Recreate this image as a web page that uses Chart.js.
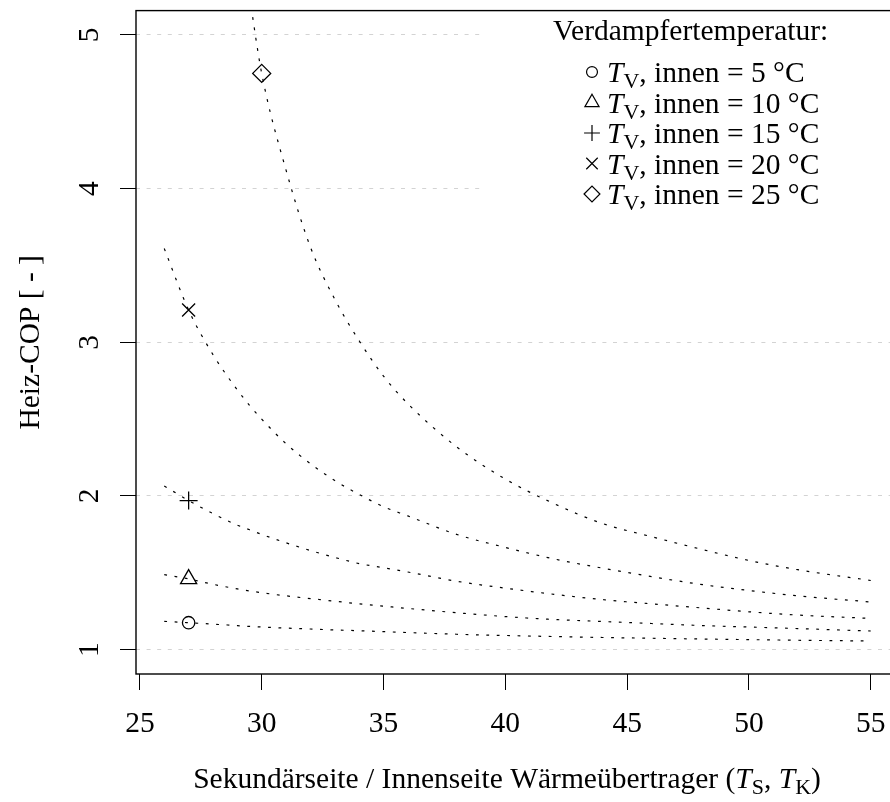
<!DOCTYPE html>
<html>
<head>
<meta charset="utf-8">
<script src="https://cdn.jsdelivr.net/npm/chart.js@4.4.0/dist/chart.umd.min.js"></script>
<style>
  html, body { margin: 0; padding: 0; background: #fff; overflow: hidden; }
  #wrap { width: 890px; height: 802px; overflow: hidden; }
</style>
</head>
<body>
<div id="wrap"><canvas id="copChart" width="910" height="802"></canvas></div>
<script>
// Kondensations- / Sekundärtemperatur [°C]
const kondTemp = [26, 27, 28, 29, 29.5, 30, 31, 32, 33, 34, 35, 36, 38, 40, 42, 44, 46, 48, 50, 52, 55];

// Heiz-COP je Verdampfertemperatur
const cop5  = [1.184, 1.175, 1.166, 1.156, 1.151, 1.147, 1.140, 1.134, 1.128, 1.123, 1.117, 1.111, 1.100, 1.092, 1.085, 1.079, 1.074, 1.069, 1.065, 1.061, 1.056];
const cop10 = [1.488, 1.460, 1.425, 1.395, 1.382, 1.370, 1.350, 1.332, 1.315, 1.298, 1.283, 1.268, 1.240, 1.215, 1.196, 1.183, 1.170, 1.157, 1.147, 1.137, 1.121];
const cop15 = [2.065, 1.970, 1.885, 1.810, 1.780, 1.750, 1.695, 1.645, 1.600, 1.560, 1.533, 1.505, 1.445, 1.400, 1.360, 1.325, 1.298, 1.272, 1.246, 1.225, 1.203];
const cop20 = [3.610, 3.210, 2.920, 2.690, 2.590, 2.500, 2.340, 2.210, 2.100, 2.010, 1.930, 1.870, 1.750, 1.665, 1.590, 1.530, 1.475, 1.425, 1.385, 1.350, 1.310];
const cop25 = [null, null, null, null, 5.250, 4.750, 4.120, 3.620, 3.280, 3.010, 2.780, 2.600, 2.320, 2.110, 1.950, 1.820, 1.735, 1.655, 1.580, 1.520, 1.450];

// Messpunkte
const evapTemps = [5, 10, 15, 20, 25];
const markerTemp = [27, 27, 27, 27, 30];
const markerCop = [1.175, 1.46, 1.97, 3.21, 4.75];
const markerStyles = ['circle', 'triangle', 'cross', 'crossRot', 'rectRot'];
const markerRadius = [6.2, 9.3, 9, 9.2, 9];

const xTicks = [25, 30, 35, 40, 45, 50, 55];
const yTicks = [1, 2, 3, 4, 5];

const FONT = '"Liberation Serif", "Times New Roman", serif';
const FS = 29.5;
const FS_SUB = 22;

function curve(values) {
    const pts = [];
    kondTemp.forEach((t, i) => {
        if (values[i] !== null) pts.push({ x: t, y: values[i] });
    });
    return {
        type: 'line',
        data: pts,
        borderColor: '#000',
        borderWidth: 1.2,
        borderDash: [2.8, 7.6],
        pointRadius: 0,
        fill: false,
        showLine: true,
        cubicInterpolationMode: 'monotone'
    };
}

// text with italic symbol and subscript
function drawRich(ctx, parts, x, y, align) {
    const fontFor = p => (p.italic ? 'italic ' : '') + (p.sub ? FS_SUB : FS) + 'px ' + FONT;
    let w = 0;
    parts.forEach(p => { ctx.font = fontFor(p); w += ctx.measureText(p.t).width; });
    let cx = align === 'center' ? x - w / 2 : x;
    ctx.textAlign = 'left';
    ctx.textBaseline = 'alphabetic';
    parts.forEach(p => {
        ctx.font = fontFor(p);
        ctx.fillText(p.t, cx, y + (p.sub ? 6 : 0));
        cx += ctx.measureText(p.t).width;
    });
}

function drawSymbol(ctx, style, x, y, r) {
    ctx.beginPath();
    if (style === 'circle') {
        ctx.arc(x, y, r, 0, Math.PI * 2);
    } else if (style === 'triangle') {
        for (let k = 0; k < 3; k++) {
            const a = k * 2 * Math.PI / 3;
            const px = x + Math.sin(a) * r, py = y - Math.cos(a) * r;
            if (k === 0) ctx.moveTo(px, py); else ctx.lineTo(px, py);
        }
        ctx.closePath();
    } else if (style === 'cross') {
        ctx.moveTo(x - r, y); ctx.lineTo(x + r, y);
        ctx.moveTo(x, y - r); ctx.lineTo(x, y + r);
    } else if (style === 'crossRot') {
        const d = r * Math.SQRT1_2;
        ctx.moveTo(x - d, y - d); ctx.lineTo(x + d, y + d);
        ctx.moveTo(x - d, y + d); ctx.lineTo(x + d, y - d);
    } else {
        ctx.moveTo(x - r, y); ctx.lineTo(x, y - r);
        ctx.lineTo(x + r, y); ctx.lineTo(x, y + r);
        ctx.closePath();
    }
    ctx.stroke();
}

const framePlugin = {
    id: 'frame',
    beforeDatasetsDraw(chart) {
        // legend background hides the grid lines behind it
        const { ctx, chartArea } = chart;
        ctx.save();
        ctx.fillStyle = '#fff';
        ctx.fillRect(481, chartArea.top + 1, chartArea.right - 481, 212);
        ctx.restore();
    },
    afterDraw(chart) {
        const { ctx, chartArea, scales } = chart;
        ctx.save();
        ctx.strokeStyle = '#000';
        ctx.lineWidth = 1.4;
        ctx.strokeRect(chartArea.left, chartArea.top, chartArea.right - chartArea.left, chartArea.bottom - chartArea.top);

        // y tick labels, parallel to the axis
        ctx.fillStyle = '#000';
        ctx.font = FS + 'px ' + FONT;
        ctx.textAlign = 'center';
        ctx.textBaseline = 'alphabetic';
        scales.y.ticks.forEach(t => {
            const py = scales.y.getPixelForValue(t.value);
            ctx.save();
            ctx.translate(98, py);
            ctx.rotate(-Math.PI / 2);
            ctx.fillText(String(t.value), 0, 0);
            ctx.restore();
        });

        // axis titles
        ctx.save();
        ctx.translate(39, (chartArea.top + chartArea.bottom) / 2);
        ctx.rotate(-Math.PI / 2);
        ctx.fillText('Heiz-COP [ - ]', 0, 0);
        ctx.restore();

        drawRich(ctx, [
            { t: 'Sekundärseite / Innenseite Wärmeübertrager (' },
            { t: 'T', italic: true }, { t: 'S', sub: true },
            { t: ', ' },
            { t: 'T', italic: true }, { t: 'K', sub: true },
            { t: ')' }
        ], 507, 788, 'center');

        // legend
        drawRich(ctx, [{ t: 'Verdampfertemperatur:' }], 553, 40, 'left');
        ctx.lineWidth = 1.2;
        evapTemps.forEach((tv, i) => {
            const rowY = 72 + i * 30.5;
            drawSymbol(ctx, markerStyles[i], 592, rowY, markerRadius[i] * 0.88);
            drawRich(ctx, [
                { t: 'T', italic: true }, { t: 'V', sub: true },
                { t: ', innen = ' + tv + ' °C' }
            ], 607, rowY + 10, 'left');
        });
        ctx.restore();
    }
};

const copChart = new Chart(document.getElementById('copChart'), {
    type: 'scatter',
    data: {
        datasets: [
            curve(cop5), curve(cop10), curve(cop15), curve(cop20), curve(cop25),
            {
                type: 'scatter',
                data: markerTemp.map((t, i) => ({ x: t, y: markerCop[i] })),
                pointStyle: markerStyles,
                pointRadius: markerRadius,
                pointBorderColor: '#000',
                pointBackgroundColor: 'rgba(0,0,0,0)',
                pointBorderWidth: 1.3,
                showLine: false
            }
        ]
    },
    options: {
        responsive: false,
        animation: false,
        devicePixelRatio: 1,
        layout: { padding: { left: 0, top: 7, right: 11, bottom: 0 } },
        plugins: { legend: { display: false }, tooltip: { enabled: false } },
        scales: {
            x: {
                type: 'linear',
                min: 24.84,
                max: 56.16,
                afterBuildTicks: s => { s.ticks = xTicks.map(v => ({ value: v })); },
                afterFit: s => { s.height = 128; },
                ticks: { font: { family: FONT, size: FS }, color: '#000', padding: 17, maxRotation: 0, autoSkip: false },
                grid: { drawOnChartArea: false, tickLength: 16, tickColor: '#000', tickWidth: 1 },
                border: { display: false }
            },
            y: {
                min: 0.8413,
                max: 5.1587,
                afterBuildTicks: s => { s.ticks = yTicks.map(v => ({ value: v })); },
                afterFit: s => { s.width = 136; },
                ticks: { display: false },
                grid: { color: '#d3d3d3', lineWidth: 1, tickLength: 16, tickColor: '#000', tickWidth: 1 },
                border: { display: false, dash: [4, 6.6] }
            }
        }
    },
    plugins: [framePlugin]
});
</script>
</body>
</html>
